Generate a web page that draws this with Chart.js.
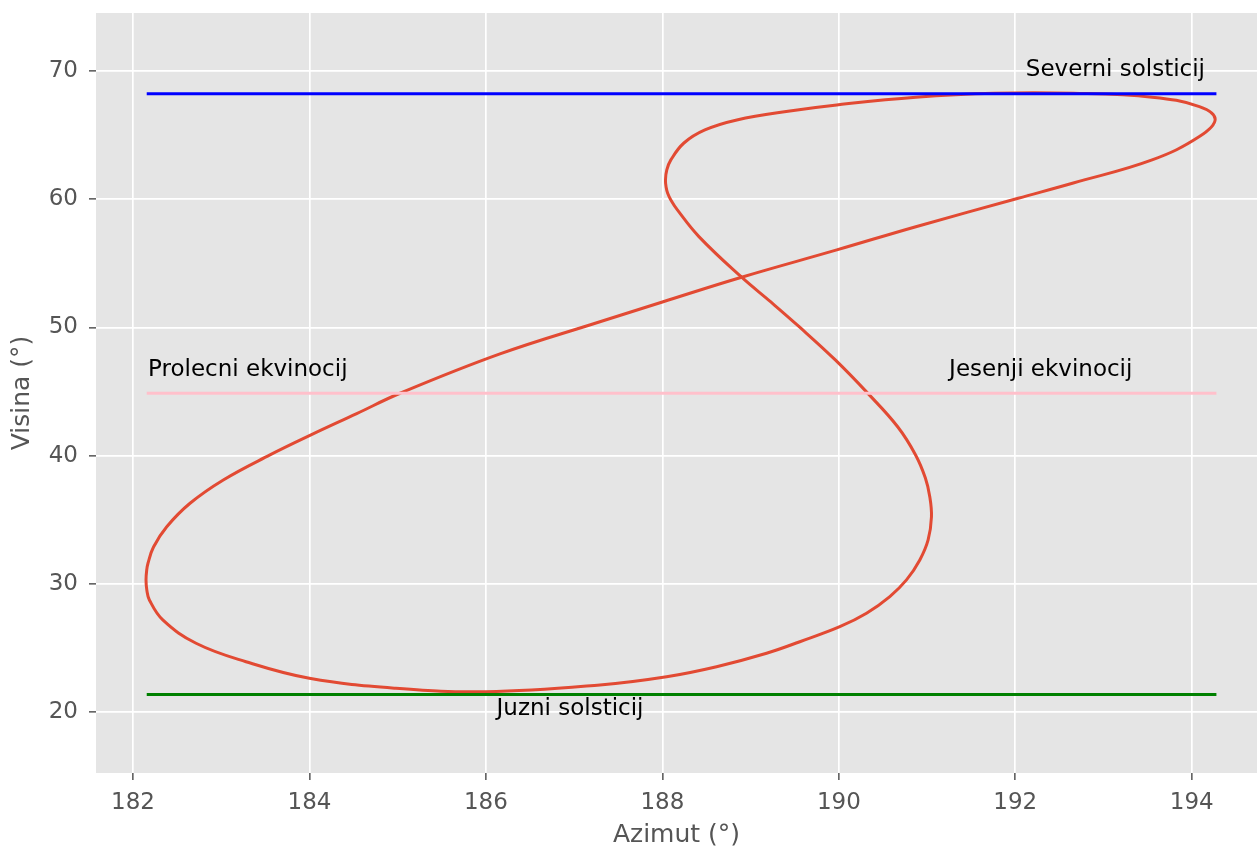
<!DOCTYPE html>
<html>
<head>
<meta charset="utf-8">
<script src="https://cdn.jsdelivr.net/npm/chart.js@4.4.1/dist/chart.umd.min.js"></script>
<style>
  html, body { margin: 0; padding: 0; background: #fff; }
  #wrap { width: 1258px; height: 850px; }
</style>
</head>
<body>
<div id="wrap"><canvas id="analema"></canvas></div>
<script>
// analema - azimut / visina (stepeni), ocitano sa slike
const azimut = [187.292, 188.009, 188.898, 189.977, 190.873, 192.033, 192.658, 193.551, 194.087,
  194.266, 194.087, 193.551, 192.658, 191.764, 190.873, 189.977, 189.445, 188.844, 188.482, 188.244,
  188.096, 188.050, 188.035, 188.042, 188.060, 188.096, 188.170, 188.414, 188.898, 189.229, 189.547,
  189.960, 190.332, 190.669, 190.870, 190.981, 191.031, 191.050, 191.012, 190.918, 190.767, 190.578,
  190.314, 190.011, 189.558, 189.181, 188.614, 188.048, 187.292, 186.000, 184.980, 183.998, 183.280,
  182.714, 182.337, 182.185, 182.156, 182.147, 182.155, 182.170, 182.232, 182.382, 182.646, 183.023,
  183.552, 184.017, 184.535, 185.026, 186.159, 187.292];
const visina = [50.44, 52.00, 53.91, 56.04, 57.85, 60.07, 61.26, 63.06, 64.88,
  66.23, 67.22, 67.95, 68.26, 68.26, 67.95, 67.35, 66.88, 66.18, 65.40, 64.38,
  63.06, 62.28, 61.50, 60.95, 60.46, 59.94, 59.16, 57.08, 53.91, 51.98, 50.07,
  47.46, 44.83, 42.23, 40.05, 38.25, 36.79, 35.23, 33.42, 31.86, 30.30, 29.00,
  27.70, 26.65, 25.48, 24.58, 23.53, 22.75, 22.11, 21.58, 21.85, 22.63, 23.92,
  25.36, 27.18, 28.74, 29.52, 30.30, 31.08, 31.62, 32.87, 34.45, 36.28, 38.10,
  40.05, 41.61, 43.27, 44.86, 47.93, 50.44];

// solsticiji i ekvinocij
const linijeVisina = [68.22, 44.86, 21.36];
const linijeBoje = ['#0000ff', '#ffc0cb', '#008000'];
const linijeOd = 182.155;
const linijeDo = 194.28;

const natpisi = ['Severni solsticij', 'Prolecni ekvinocij', 'Jesenji ekvinocij', 'Juzni solsticij'];
const natpisiX = [192.12, 182.17, 191.25, 186.12];
const natpisiY = [69.62, 46.2, 46.2, 19.78];

const xTicks = [182, 184, 186, 188, 190, 192, 194];
const yTicks = [20, 30, 40, 50, 60, 70];

const font = 'DejaVu Sans';

const pozadina = {
    id: 'pozadina',
    beforeDraw(chart) {
        const a = chart.chartArea;
        const ctx = chart.ctx;
        ctx.save();
        ctx.fillStyle = '#e5e5e5';
        ctx.fillRect(a.left, a.top, a.right - a.left, a.bottom - a.top);
        ctx.restore();
    }
};

const tekst = {
    id: 'tekst',
    afterDatasetsDraw(chart) {
        const ctx = chart.ctx;
        const sx = chart.scales.x, sy = chart.scales.y;
        ctx.save();
        ctx.font = '23px "' + font + '"';
        ctx.fillStyle = '#000';
        ctx.textAlign = 'left';
        ctx.textBaseline = 'alphabetic';
        natpisi.forEach((t, i) => {
            ctx.fillText(t, sx.getPixelForValue(natpisiX[i]), sy.getPixelForValue(natpisiY[i]));
        });
        ctx.restore();
    }
};

const datasets = linijeVisina.map((v, i) => ({
    data: [{x: linijeOd, y: v}, {x: linijeDo, y: v}],
    borderColor: linijeBoje[i],
    borderWidth: 3,
    pointRadius: 0,
    showLine: true,
    order: 1
}));
datasets.push({
    data: azimut.map((a, i) => ({x: a, y: visina[i]})),
    borderColor: '#e24a33',
    borderWidth: 3,
    pointRadius: 0,
    showLine: true,
    tension: 0.4,
    order: 2
});

new Chart(document.getElementById('analema'), {
    type: 'scatter',
    data: { datasets: datasets },
    plugins: [pozadina, tekst],
    options: {
        responsive: true,
        maintainAspectRatio: false,
        animation: false,
        layout: { padding: { left: 0, top: 13, right: 1, bottom: 0 } },
        plugins: {
            legend: { display: false },
            tooltip: { enabled: false }
        },
        scales: {
            x: {
                type: 'linear',
                min: 181.58,
                max: 194.74,
                afterBuildTicks: s => { s.ticks = xTicks.map(v => ({value: v})); },
                afterFit: s => { s.height = 77; s.paddingLeft = 0; s.paddingRight = 0; },
                border: { display: false },
                grid: { color: '#ffffff', lineWidth: 1.7, tickColor: '#555555', tickLength: 7, tickWidth: 1.5 },
                ticks: { color: '#555555', font: { family: font, size: 23 }, padding: 9, maxRotation: 0 },
                title: { display: true, text: 'Azimut (°)', color: '#555555',
                         font: { family: font, size: 25, lineHeight: 1.2 }, padding: { top: 0, bottom: 0 } }
            },
            y: {
                type: 'linear',
                min: 15.24,
                max: 74.52,
                afterBuildTicks: s => { s.ticks = yTicks.map(v => ({value: v})); },
                afterFit: s => { s.width = 96; s.paddingTop = 0; s.paddingBottom = 0; },
                border: { display: false },
                grid: { color: '#ffffff', lineWidth: 1.7, tickColor: '#555555', tickLength: 7, tickWidth: 1.5 },
                ticks: { color: '#555555', font: { family: font, size: 23 }, padding: 11 },
                title: { display: true, text: 'Visina (°)', color: '#555555',
                         font: { family: font, size: 25, lineHeight: 1.2 }, padding: { top: 7, bottom: 0 } }
            }
        }
    }
});
</script>
</body>
</html>
